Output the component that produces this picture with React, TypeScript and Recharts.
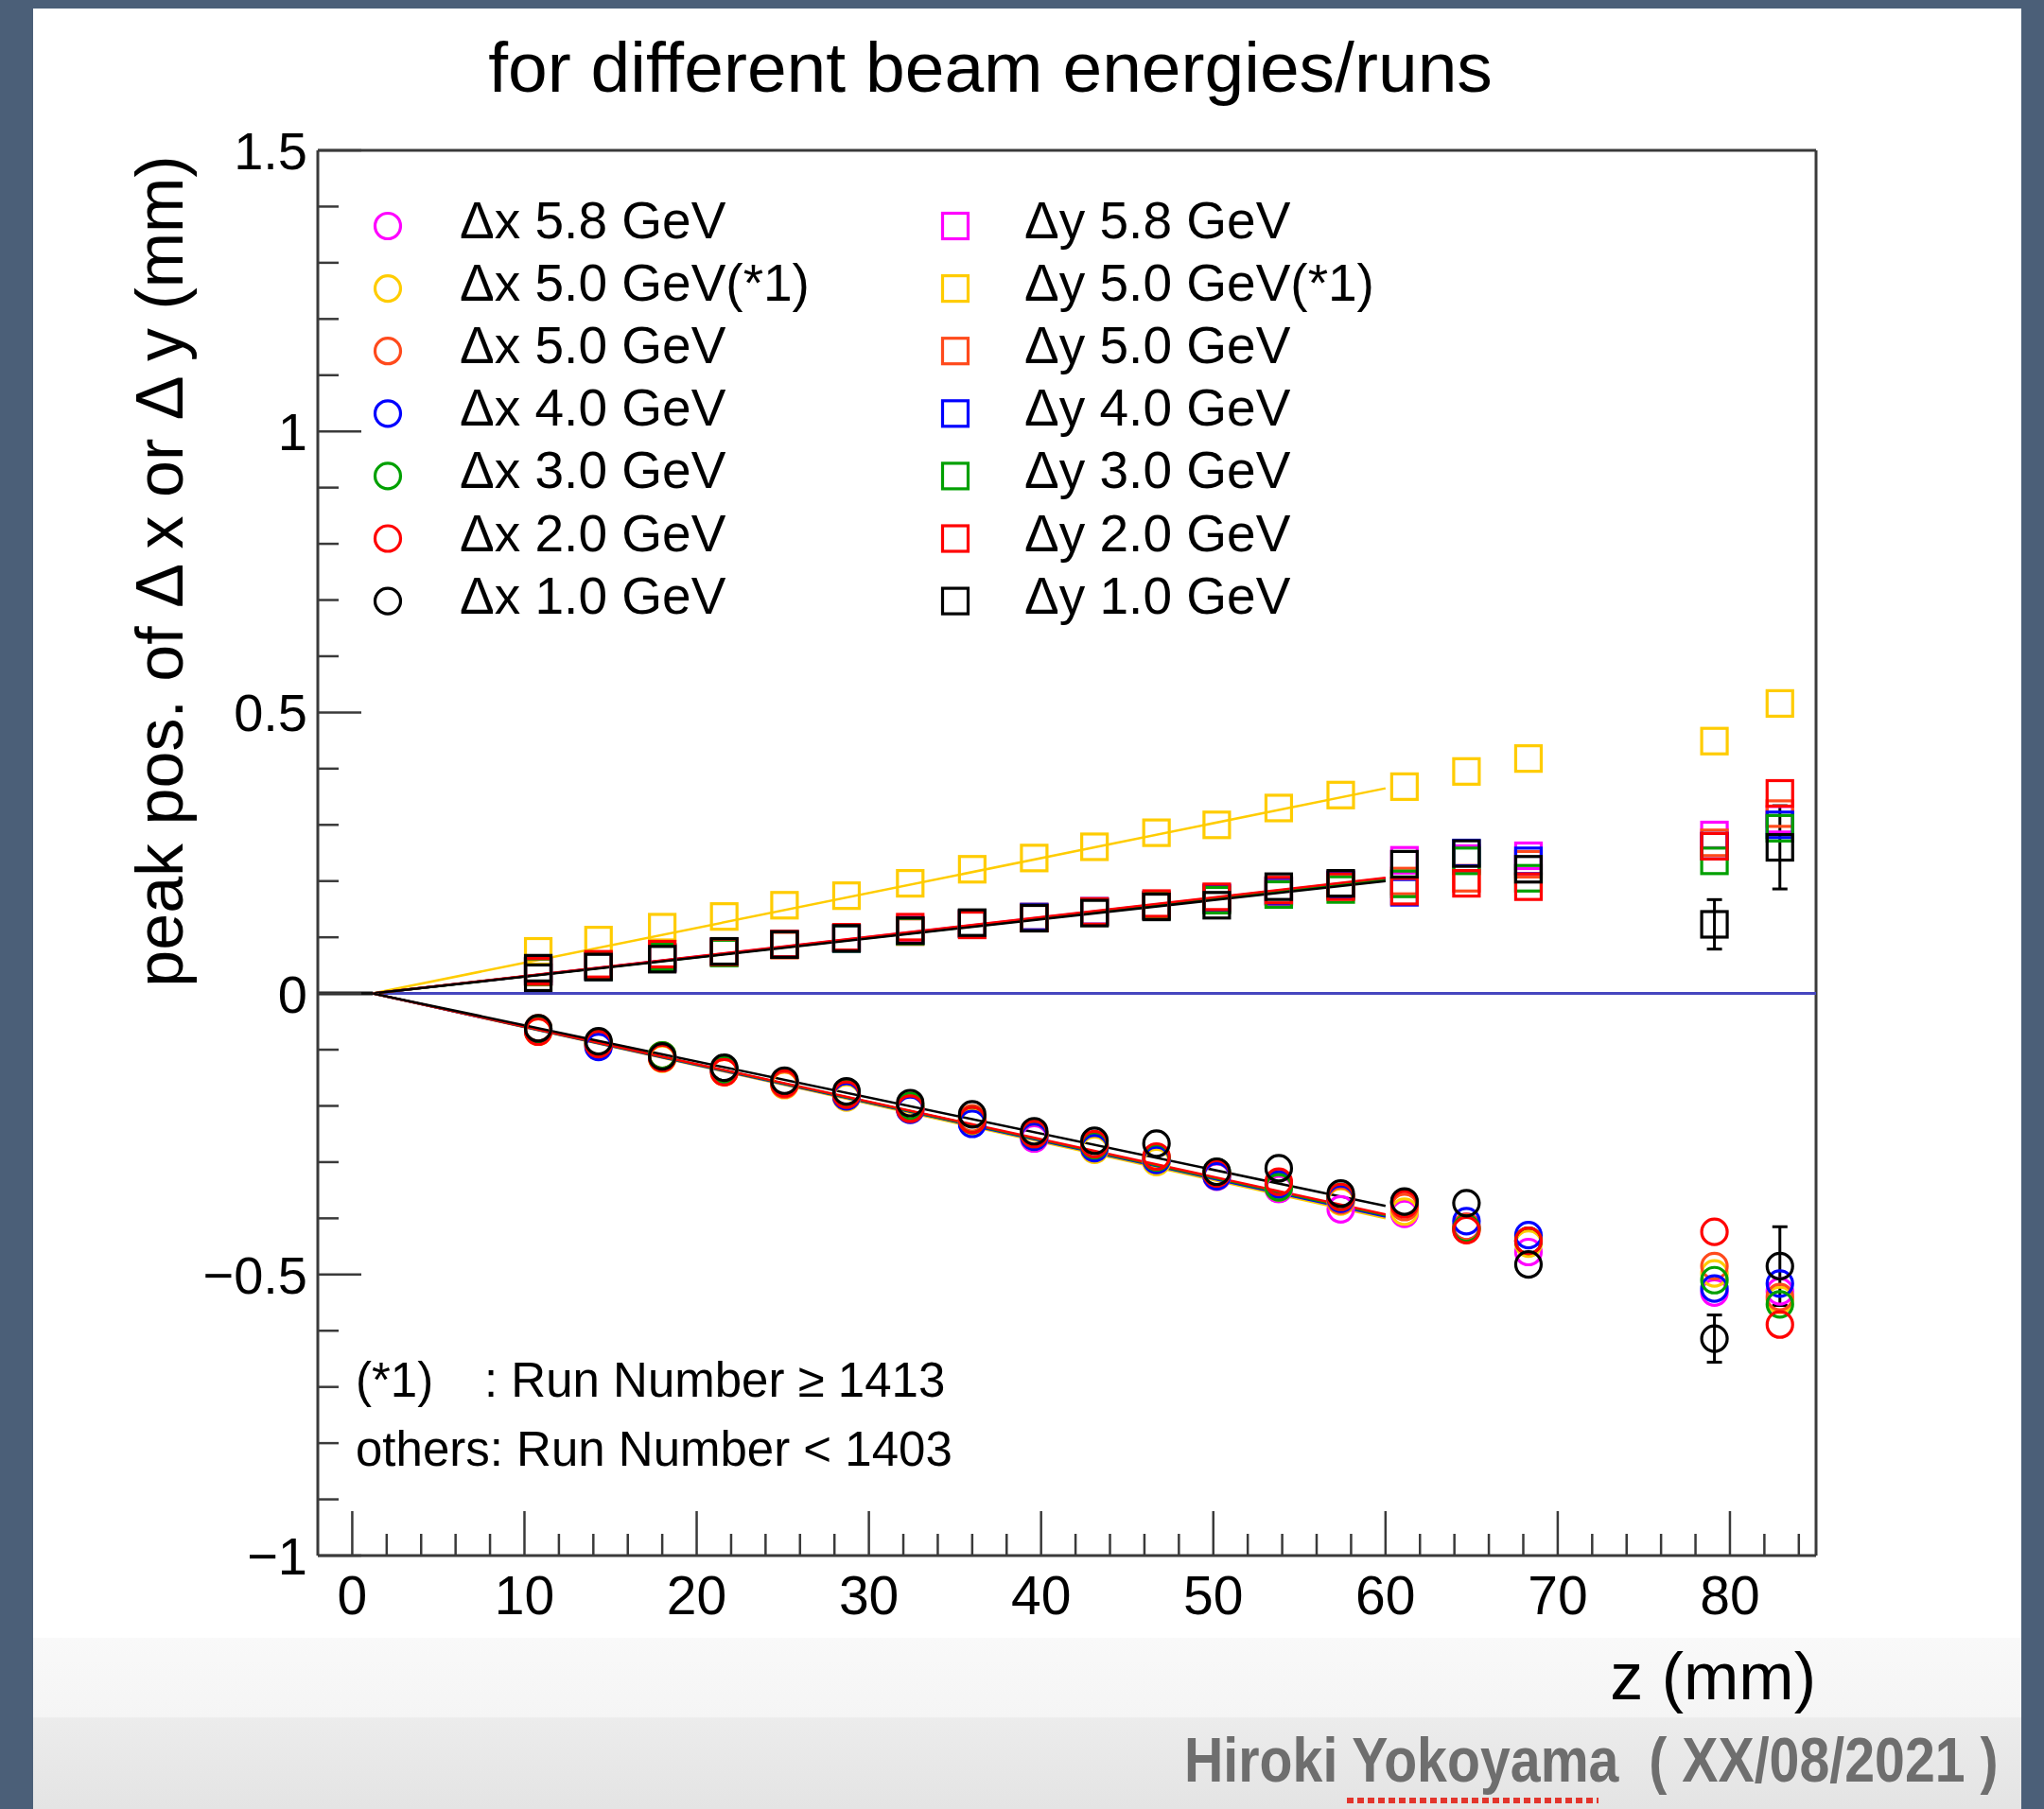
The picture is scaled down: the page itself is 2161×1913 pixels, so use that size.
import React from 'react';
import { ComposedChart, Scatter, Line, XAxis, YAxis, ReferenceLine, ErrorBar, Legend } from 'recharts';

const FONT = '"Liberation Sans", Arial, Helvetica, sans-serif';

// z positions of the measured planes (mm)
const Z_POS = [10.8, 14.3, 18.0, 21.6, 25.1, 28.7, 32.4, 36.0, 39.6, 43.1, 46.7, 50.2, 53.8, 57.4, 61.1, 64.7, 68.3, 79.1, 82.9];

// beam energies / runs, in legend order
const ENERGY_NAMES = ['5.8 GeV', '5.0 GeV(*1)', '5.0 GeV', '4.0 GeV', '3.0 GeV', '2.0 GeV', '1.0 GeV'];
const ENERGY_COLORS = ['#ff00ff', '#ffcc00', '#ff4a1c', '#0000ff', '#00a000', '#ff0000', '#000000'];

// peak position of dx (mm)
const DX_58 = [-0.065, -0.092, -0.112, -0.136, -0.160, -0.180, -0.205, -0.230, -0.258, -0.272, -0.298, -0.326, -0.348, -0.384, -0.392, -0.415, -0.460, -0.532, -0.530];
const DX_50R = [-0.068, -0.092, -0.116, -0.140, -0.163, -0.185, -0.206, -0.228, -0.255, -0.278, -0.300, -0.325, -0.345, -0.370, -0.388, -0.420, -0.445, -0.498, -0.545];
const DX_50 = [-0.062, -0.088, -0.110, -0.138, -0.162, -0.182, -0.200, -0.222, -0.252, -0.273, -0.295, -0.322, -0.340, -0.368, -0.380, -0.415, -0.440, -0.485, -0.540];
const DX_40 = [-0.066, -0.095, -0.113, -0.137, -0.157, -0.183, -0.207, -0.232, -0.255, -0.275, -0.296, -0.325, -0.340, -0.365, -0.372, -0.405, -0.430, -0.525, -0.516];
const DX_30 = [-0.064, -0.088, -0.110, -0.135, -0.158, -0.178, -0.200, -0.225, -0.250, -0.270, -0.292, -0.318, -0.345, -0.362, -0.372, -0.418, -0.440, -0.510, -0.553];
const DX_20 = [-0.068, -0.090, -0.115, -0.140, -0.160, -0.180, -0.205, -0.225, -0.250, -0.268, -0.290, -0.320, -0.335, -0.362, -0.375, -0.421, -0.440, -0.424, -0.589];
const DX_10 = [-0.062, -0.085, -0.112, -0.132, -0.155, -0.174, -0.195, -0.215, -0.245, -0.262, -0.267, -0.317, -0.311, -0.356, -0.370, -0.373, -0.482, -0.614, -0.485];
const DX_10_ERR = [0, 0, 0, 0, 0, 0, 0, 0, 0, 0, 0, 0, 0, 0, 0, 0, 0, 0.042, 0.07];

// peak position of dy (mm)
const DY_58 = [0.041, 0.049, 0.064, 0.074, 0.087, 0.099, 0.113, 0.125, 0.135, 0.146, 0.156, 0.169, 0.182, 0.192, 0.237, 0.240, 0.245, 0.282, 0.310];
const DY_50R = [0.075, 0.095, 0.118, 0.137, 0.157, 0.174, 0.196, 0.221, 0.241, 0.261, 0.286, 0.300, 0.330, 0.353, 0.368, 0.395, 0.418, 0.449, 0.516];
const DY_50 = [0.038, 0.050, 0.062, 0.073, 0.086, 0.099, 0.110, 0.124, 0.136, 0.145, 0.157, 0.168, 0.182, 0.194, 0.200, 0.205, 0.230, 0.268, 0.320];
const DY_40 = [0.040, 0.048, 0.063, 0.074, 0.088, 0.098, 0.112, 0.124, 0.136, 0.146, 0.157, 0.170, 0.182, 0.193, 0.180, 0.250, 0.236, 0.262, 0.300];
const DY_30 = [0.039, 0.048, 0.065, 0.072, 0.087, 0.098, 0.111, 0.125, 0.134, 0.144, 0.156, 0.166, 0.176, 0.185, 0.195, 0.236, 0.205, 0.236, 0.294];
const DY_20 = [0.040, 0.052, 0.070, 0.074, 0.088, 0.100, 0.118, 0.122, 0.134, 0.146, 0.160, 0.172, 0.184, 0.190, 0.182, 0.196, 0.190, 0.262, 0.356];
const DY_10 = [0.045, 0.047, 0.061, 0.075, 0.087, 0.098, 0.112, 0.126, 0.134, 0.143, 0.154, 0.157, 0.190, 0.196, 0.230, 0.249, 0.221, 0.123, 0.260];
const DY_10_ERR = [0, 0, 0, 0, 0, 0, 0, 0, 0, 0, 0, 0, 0, 0, 0, 0, 0, 0.044, 0.074];
// second 1.0 GeV dy entry at the first plane
const DY_10_EXTRA_Z = [10.8];
const DY_10_EXTRA_V = [0.028];

// linear fits: from FIT_Z[0] (value 0) to FIT_Z[1]
const FIT_Z = [1.2, 60];
const FIT_DX_END = [-0.398, -0.400, -0.395, -0.397, -0.395, -0.393, -0.378];
const FIT_DY_END = [0.205, 0.365, 0.203, 0.204, 0.202, 0.206, 0.200];

const X_TICKS = [0, 2, 4, 6, 8, 10, 12, 14, 16, 18, 20, 22, 24, 26, 28, 30, 32, 34, 36, 38, 40, 42, 44, 46, 48, 50, 52, 54, 56, 58, 60, 62, 64, 66, 68, 70, 72, 74, 76, 78, 80, 82, 84];
const X_MAJOR = [0, 10, 20, 30, 40, 50, 60, 70, 80];
const X_LABELS = ['0', '10', '20', '30', '40', '50', '60', '70', '80'];
const Y_TICKS = [-1, -0.9, -0.8, -0.7, -0.6, -0.5, -0.4, -0.3, -0.2, -0.1, 0, 0.1, 0.2, 0.3, 0.4, 0.5, 0.6, 0.7, 0.8, 0.9, 1, 1.1, 1.2, 1.3, 1.4, 1.5];
const Y_MAJOR = [-1, -0.5, 0, 0.5, 1, 1.5];
const Y_LABELS = ['\u22121', '\u22120.5', '0', '0.5', '1', '1.5'];

const DX_VALUES = [DX_58, DX_50R, DX_50, DX_40, DX_30, DX_20, DX_10];
const DY_VALUES = [DY_58, DY_50R, DY_50, DY_40, DY_30, DY_20, DY_10];

const toPoints = (vals: number[], errs?: number[]) =>
  vals.map((v, i) => ({ z: Z_POS[i], v, err: errs ? errs[i] : 0 }));

const dxData = DX_VALUES.map((vals, i) => toPoints(vals, i === 6 ? DX_10_ERR : undefined));
const dyData = DY_VALUES.map((vals, i) => {
  const pts = toPoints(vals, i === 6 ? DY_10_ERR : undefined);
  if (i === 6) DY_10_EXTRA_Z.forEach((z, k) => pts.push({ z, v: DY_10_EXTRA_V[k], err: 0 }));
  return pts;
});
const fitData = (end: number) => [{ z: FIT_Z[0], v: 0 }, { z: FIT_Z[1], v: end }];

const AXIS_COLOR = '#3a3a3a';
const MARK = 13.5;

const CircleMark = ({ cx, cy, color }: any) =>
  cx == null ? null : <circle cx={cx} cy={cy} r={MARK} fill="none" stroke={color} strokeWidth={3.2} />;
const SquareMark = ({ cx, cy, color }: any) =>
  cx == null ? null : <rect x={cx - MARK} y={cy - MARK} width={MARK * 2} height={MARK * 2} fill="none" stroke={color} strokeWidth={3.2} />;

const YTick = (props: any) => {
  const { x, y, payload } = props;
  const idx = Y_MAJOR.findIndex((m) => Math.abs(m - payload.value) < 1e-6);
  const major = idx >= 0;
  return (
    <g>
      <line x1={x} y1={y} x2={x + (major ? 46 : 22)} y2={y} stroke={AXIS_COLOR} strokeWidth={2.5} />
      {major && (
        <text x={x - 11} y={y + 20} textAnchor="end" fontSize={56} fontFamily={FONT} fill="#000">
          {Y_LABELS[idx]}
        </text>
      )}
    </g>
  );
};

const XTick = (props: any) => {
  const { x, y, payload } = props;
  const idx = X_MAJOR.indexOf(payload.value);
  const major = idx >= 0;
  return (
    <g>
      <line x1={x} y1={y} x2={x} y2={y - (major ? 47 : 23)} stroke={AXIS_COLOR} strokeWidth={2.5} />
      {major && (
        <text x={x} y={y + 62} textAnchor="middle" fontSize={57} fontFamily={FONT} fill="#000">
          {X_LABELS[idx]}
        </text>
      )}
    </g>
  );
};

const LegendBox = () => (
  <svg width={1200} height={470} style={{ display: 'block' }}>
    {ENERGY_NAMES.map((name, i) => {
      const cy = 39 + i * 66.1;
      return (
        <g key={name}>
          <CircleMark cx={30} cy={cy} color={ENERGY_COLORS[i]} />
          <text x={106} y={cy + 13} fontSize={55} fontFamily={FONT} fill="#000">{'\u0394x ' + name}</text>
          <SquareMark cx={630} cy={cy} color={ENERGY_COLORS[i]} />
          <text x={703} y={cy + 13} fontSize={55} fontFamily={FONT} fill="#000">{'\u0394y ' + name}</text>
        </g>
      );
    })}
  </svg>
);

export default function App() {
  return (
    <div style={{ position: 'absolute', left: 0, top: 0, width: 2161, height: 1913, background: '#4b5f78', overflow: 'hidden' }}>
      <div style={{ position: 'absolute', left: 35, top: 9, width: 2102, height: 1904, background: '#ffffff' }} />
      <div
        style={{
          position: 'absolute', left: 35, top: 1732, width: 2102, height: 181,
          background: 'linear-gradient(#f9f9f9 0%, #f5f5f5 46%, #ececec 47%, #e4e4e4 100%)',
        }}
      />
      <div style={{ position: 'absolute', left: 0, top: 0 }}>
        <ComposedChart width={2161} height={1913} margin={{ top: 159, right: 241, bottom: 168, left: 236 }}>
          <XAxis
            type="number" dataKey="z" domain={[-2, 85]} allowDataOverflow ticks={X_TICKS} interval={0}
            height={100} tickSize={0} tickMargin={0} tickLine={false} tick={<XTick />}
            axisLine={{ stroke: AXIS_COLOR, strokeWidth: 3 }}
          />
          <YAxis
            type="number" dataKey="v" domain={[-1, 1.5]} allowDataOverflow ticks={Y_TICKS} interval={0}
            width={100} tickSize={0} tickMargin={0} tickLine={false} tick={<YTick />}
            axisLine={{ stroke: AXIS_COLOR, strokeWidth: 3 }}
          />
          <ReferenceLine y={1.5} stroke={AXIS_COLOR} strokeWidth={3} />
          <ReferenceLine x={85} stroke={AXIS_COLOR} strokeWidth={3} />
          <ReferenceLine y={0} stroke="#4646bf" strokeWidth={3} />
          <ReferenceLine segment={[{ x: -2, y: 0 }, { x: FIT_Z[0], y: 0 }]} stroke="#111" strokeWidth={4} />

          {FIT_DY_END.map((end, i) => (
            <Line key={'fy' + i} data={fitData(end)} dataKey="v" type="linear" stroke={ENERGY_COLORS[i]}
              strokeWidth={2.5} dot={false} activeDot={false} legendType="none" isAnimationActive={false} />
          ))}
          {FIT_DX_END.map((end, i) => (
            <Line key={'fx' + i} data={fitData(end)} dataKey="v" type="linear" stroke={ENERGY_COLORS[i]}
              strokeWidth={2.5} dot={false} activeDot={false} legendType="none" isAnimationActive={false} />
          ))}

          {dxData.map((pts, i) => (
            <Scatter key={'dx' + i} name={'\u0394x ' + ENERGY_NAMES[i]} data={pts} dataKey="v" isAnimationActive={false}
              shape={(p: any) => <CircleMark cx={p.cx} cy={p.cy} color={ENERGY_COLORS[i]} />}>
              {i === 6 && <ErrorBar dataKey="err" direction="y" width={8} stroke="#000" strokeWidth={3} />}
            </Scatter>
          ))}
          {dyData.map((pts, i) => (
            <Scatter key={'dy' + i} name={'\u0394y ' + ENERGY_NAMES[i]} data={pts} dataKey="v" isAnimationActive={false}
              shape={(p: any) => <SquareMark cx={p.cx} cy={p.cy} color={ENERGY_COLORS[i]} />}>
              {i === 6 && <ErrorBar dataKey="err" direction="y" width={8} stroke="#000" strokeWidth={3} />}
            </Scatter>
          ))}

          <Legend
            verticalAlign="middle" align="center" layout="horizontal"
            wrapperStyle={{ position: 'absolute', left: 380, top: 200, width: 1200, height: 470 }}
            content={() => <LegendBox />}
          />
        </ComposedChart>
      </div>

      <svg width={2161} height={1913} style={{ position: 'absolute', left: 0, top: 0, pointerEvents: 'none' }}>
        <text x={1047} y={97} textAnchor="middle" fontSize={75} fontFamily={FONT} fill="#000">
          for different beam energies/runs
        </text>
        <text transform="translate(193, 604) rotate(-90)" textAnchor="middle" fontSize={70} fontFamily={FONT} fill="#000">
          {'peak pos. of \u0394 x or \u0394 y (mm)'}
        </text>
        <text x={1920} y={1797} textAnchor="end" fontSize={70} fontFamily={FONT} fill="#000">z (mm)</text>
        <text x={376} y={1477} fontSize={51} fontFamily={FONT} fill="#000">(*1)</text>
        <text x={512} y={1477} fontSize={51} fontFamily={FONT} fill="#000">{': Run Number \u2265 1413'}</text>
        <text x={376} y={1550} fontSize={51} fontFamily={FONT} fill="#000">{'others: Run Number < 1403'}</text>
        <g transform="translate(1252, 1884) scale(0.868, 1)">
          <text x={0} y={0} fontSize={66} fontWeight="bold" fontFamily={FONT} fill="#6e6e6e" style={{ whiteSpace: 'pre' }}>
            {'Hiroki Yokoyama  ( XX/08/2021 )'}
          </text>
        </g>
        <line x1={1424} y1={1904} x2={1690} y2={1904} stroke="#e3352c" strokeWidth={6} strokeDasharray="7 4" />
      </svg>
    </div>
  );
}
